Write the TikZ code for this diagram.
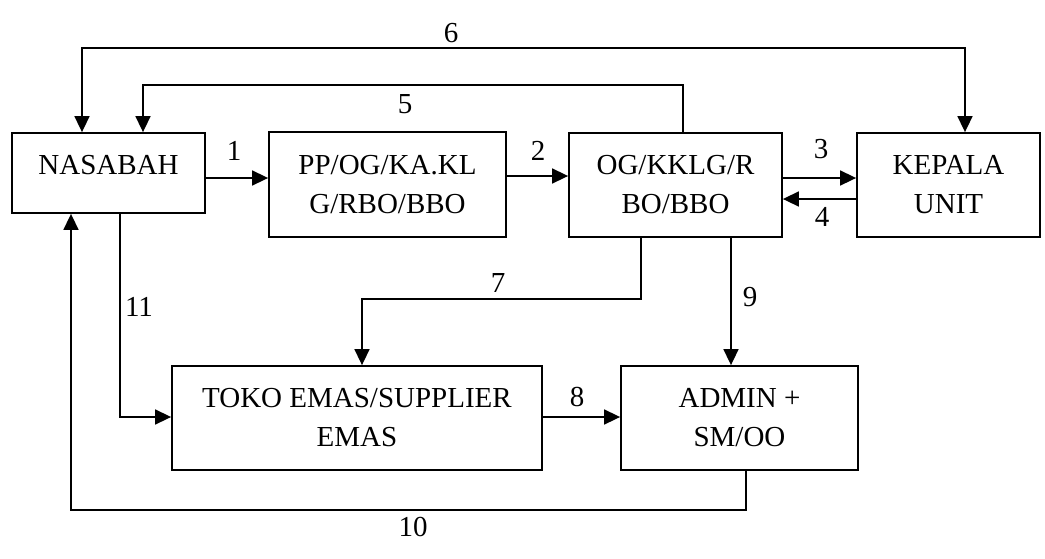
\documentclass[tikz,border=0pt]{standalone}
\usepackage{fontspec}
\setmainfont{Liberation Serif}
\usetikzlibrary{arrows.meta}
\begin{document}
\begin{tikzpicture}[x=1pt,y=-1pt,
  box/.style={draw,line width=1.8pt,align=center,inner sep=0pt,font=\fontsize{29}{39}\selectfont},
  lbl/.style={inner sep=0pt,font=\fontsize{29}{39}\selectfont},
  tip/.style={},
  arr/.style={line width=1.6pt,-{Triangle[length=16pt,width=15pt]}},
  arrb/.style={line width=1.6pt,{Triangle[length=16pt,width=15pt]}-{Triangle[length=16pt,width=15pt]}}]
\useasboundingbox (0,0) rectangle (1045,558);
% boxes
\node[box,minimum width=193pt,minimum height=80pt] (nas) at (108.5,173) {NASABAH\\[-22pt]\mbox{}};
\node[box,minimum width=237pt,minimum height=105pt] (pp) at (387.5,184.5) {PP/OG/KA.KL\\G/RBO/BBO};
\node[box,minimum width=213pt,minimum height=104pt] (og) at (675.5,185) {OG/KKLG/R\\BO/BBO};
\node[box,minimum width=183pt,minimum height=104pt] (kep) at (948.5,185) {KEPALA\\UNIT};
\node[box,minimum width=370pt,minimum height=104pt] (toko) at (357,418) {TOKO EMAS/SUPPLIER\\EMAS};
\node[box,minimum width=237pt,minimum height=104pt] (adm) at (739.5,418) {ADMIN +\\SM/OO};
% waypoints
\coordinate (c5a) at (683,85);
\coordinate (c5b) at (143,85);
\coordinate (c6a) at (82,48);
\coordinate (c6b) at (965,48);
\coordinate (c7a) at (641,299);
\coordinate (c7b) at (362,299);
\coordinate (c10a) at (746,510);
\coordinate (c10b) at (71,510);
% connectors
\draw[arr] (nas.east |- 0,178) -- (pp.west |- 0,178);
\draw[arr] (pp.east |- 0,176) -- (og.west |- 0,176);
\draw[arr] (og.east |- 0,178) -- (kep.west |- 0,178);
\draw[arr] (kep.west |- 0,199) -- (og.east |- 0,199);
\draw[arr] (og.north -| c5a) -- (c5a) -- (c5b) -- (nas.north -| c5b);
\draw[arrb] (nas.north -| c6a) -- (c6a) -- (c6b) -- (kep.north -| c6b);
\draw[arr] (og.south -| c7a) -- (c7a) -- (c7b) -- (toko.north -| c7b);
\draw[arr] (og.south -| 731,0) -- (adm.north -| 731,0);
\draw[arr] (toko.east |- 0,417) -- (adm.west |- 0,417);
\draw[arr] (adm.south -| c10a) -- (c10a) -- (c10b) -- (nas.south -| c10b);
\draw[arr] (nas.south -| 120,0) |- (toko.west |- 0,417);
% labels
\node[lbl] (l1) at (234,151) {1};
\node[lbl] (l2) at (538,151) {2};
\node[lbl] (l3) at (821,149) {3};
\node[lbl] (l4) at (822,217) {4};
\node[lbl] (l5) at (405,104) {5};
\node[lbl] (l6) at (451,33) {6};
\node[lbl] (l7) at (498,283) {7};
\node[lbl] (l8) at (577,397) {8};
\node[lbl] (l9) at (750,297) {9};
\node[lbl] (l10) at (413,527) {10};
\node[lbl] (l11) at (139,307) {11};
\end{tikzpicture}
\end{document}
